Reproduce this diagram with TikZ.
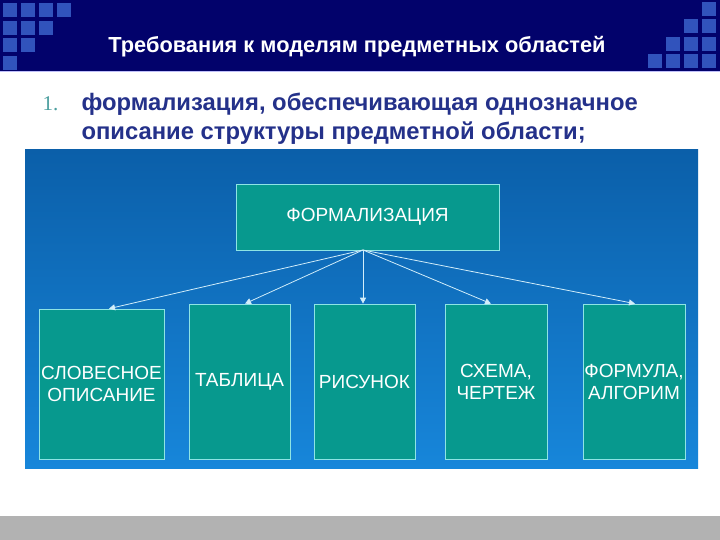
\documentclass[tikz,border=0pt]{standalone}
\usepackage{fontspec}
\setmainfont{Liberation Sans}
\newfontfamily\numfont{Liberation Serif}
\usetikzlibrary{arrows.meta}
\definecolor{navy}{HTML}{02026B}
\definecolor{tile}{HTML}{3153BC}
\definecolor{headtext}{HTML}{24318A}
\definecolor{numcol}{HTML}{4A9E9E}
\definecolor{paneltop}{HTML}{0B5FA9}
\definecolor{panelbot}{HTML}{1786DA}
\definecolor{teal}{HTML}{07998E}
\definecolor{edge}{HTML}{8EE4E4}
\definecolor{wire}{HTML}{D2EEFA}
\tikzset{
  kind/.style={draw=edge, line width=0.7pt, fill=teal, text=white, align=center,
    font=\fontsize{19}{22}\selectfont, inner sep=0pt},
  link/.style={draw=wire, line width=0.8pt, -{Triangle[width=6pt,length=6pt]}}
}
\begin{document}
\begin{tikzpicture}[x=1pt,y=-1pt]
    \useasboundingbox (0,0) rectangle (720,540);
    \fill[white] (0,0) rectangle (720,540);
    % header band
    \fill[navy] (0,0) rectangle (720,71);
    \fill[black!10!blue!25] (0,71) rectangle (720,72.5);
    \foreach \n [count=\r from 0] in {4,3,2,1}
      \foreach \c in {1,...,\n}
        \fill[tile] ({3+(\c-1)*18},{3+\r*17.7}) rectangle +(14,14);
    \foreach \r in {0,...,3}
      \foreach \c in {\r,...,0}
        \fill[tile] ({702-\c*18},{2+\r*17.3}) rectangle +(14,14);
    \node[text=white, font=\bfseries\fontsize{21.8}{26}\selectfont] (title) at (357,47)
      {Требования к моделям предметных областей};
    % item text
    \node[anchor=base west, text=numcol, font=\numfont\fontsize{21}{24}\selectfont] (num) at (39,111) {1.};
    \node[anchor=base west, text=headtext, font=\bfseries\fontsize{23.8}{28}\selectfont] (line1) at (78,111)
      {формализация, обеспечивающая однозначное};
    \node[anchor=base west, text=headtext, font=\bfseries\fontsize{23.8}{28}\selectfont] (line2) at (78,139.5)
      {описание структуры предметной области;};
    % panel
    \shade[top color=paneltop, bottom color=panelbot] (25,150) rectangle (698,468);
    \node[kind, minimum width=263pt, minimum height=66pt] (formal) at (367.5,217) {ФОРМАЛИЗАЦИЯ};
    \node[kind, minimum width=125pt, minimum height=150pt] (b1) at (101.5,384) {СЛОВЕСНОЕ\\ОПИСАНИЕ};
    \node[kind, minimum width=101pt, minimum height=155pt] (b2) at (239.5,381.5) {ТАБЛИЦА};
    \node[kind, minimum width=101pt, minimum height=155pt] (b3) at (364.5,381.5) {РИСУНОК};
    \node[kind, minimum width=102pt, minimum height=155pt] (b4) at (496,381.5) {СХЕМА,\\ЧЕРТЕЖ};
    \node[kind, minimum width=102pt, minimum height=155pt] (b5) at (634,381.5) {ФОРМУЛА,\\АЛГОРИМ};
    \coordinate (src) at (363,250);
    \foreach \b/\dx in {b1/7.5,b2/5.5,b3/-1.5,b4/-5,b5/1}
      \draw[link] (src) -- ([xshift=\dx pt]\b.north);
    % footer bar
    \fill[black!30] (0,516) rectangle (720,540);
\end{tikzpicture}
\end{document}
